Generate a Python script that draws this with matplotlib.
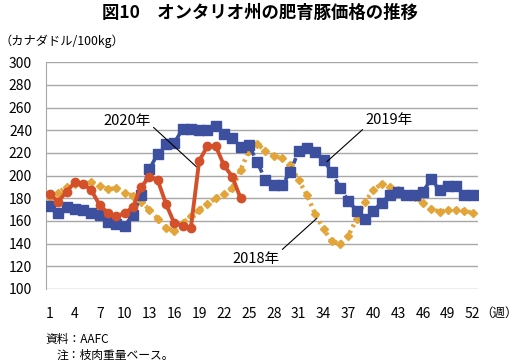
import matplotlib
matplotlib.use('Agg')
from matplotlib import pyplot as plt

plt.rcParams['font.family'] = ['Noto Sans CJK JP', 'DejaVu Sans']

weeks = list(range(1, 53))
weeks_2020 = list(range(1, 25))

price_2018 = [180, 185, 190, 193, 193, 194, 191, 188, 189, 185,
              182, 177, 170, 162, 154, 151, 158, 164, 170, 175,
              180, 184, 189, 205, 222, 228, 222, 217, 216, 209,
              196, 183, 166, 153, 142, 140, 147, 162, 177, 187,
              193, 190, 187, 184, 181, 176, 171, 168, 170, 170,
              169, 167]

price_2019 = [173, 167, 172, 171, 170, 167, 165, 159, 157, 156,
              165, 183, 206, 219, 228, 229, 241, 241, 240, 240,
              244, 237, 233, 225, 227, 212, 196, 192, 192, 203,
              222, 224, 221, 214, 203, 189, 178, 169, 162, 169,
              176, 183, 186, 183, 183, 186, 197, 187, 191, 191,
              183, 183]

price_2020 = [184, 177, 186, 194, 193, 187, 174, 167, 164, 167,
              172, 190, 199, 196, 175, 158, 156, 154, 213, 226,
              226, 209, 199, 180]

x_ticks = list(range(1, 53, 3))
y_ticks = list(range(100, 301, 20))


def draw():
    fig = plt.figure(figsize=(5.19, 3.63), dpi=100)
    ax = fig.add_axes([0.0886, 0.2039, 0.8318, 0.6245])

    ax.plot(weeks, price_2018, color='#E3A53A', lw=3.2, ls=(0, (0.6, 0.9)),
            marker='D', ms=4.5, zorder=2)
    ax.plot(weeks, price_2019, color='#3D4F9F', lw=2.6, ls=(0, (1.6, 1.0)),
            marker='s', ms=6.5, zorder=3)
    ax.plot(weeks_2020, price_2020, color='#D4502A', lw=2.8,
            marker='o', ms=6, zorder=4)

    ax.set_xlim(0.52, 52.6)
    ax.set_ylim(100, 300)
    ax.set_xticks(x_ticks)
    ax.set_yticks(y_ticks)
    ax.grid(axis='y', color='#A8A8A8', lw=1)
    ax.set_axisbelow(True)
    for s in ['top', 'right', 'bottom']:
        ax.spines[s].set_visible(False)
    ax.spines['left'].set_color('#A8A8A8')
    ax.tick_params(axis='both', length=0, labelsize=10)
    ax.tick_params(axis='x', pad=13)
    ax.tick_params(axis='y', pad=10)

    line = dict(arrowstyle='-', color='black', lw=0.8, shrinkA=0, shrinkB=0)
    ax.annotate('2020年', xy=(18.7, 207.6), xytext=(10.3, 248.2),
                ha='center', va='center', fontsize=10.5,
                arrowprops=dict(line, relpos=(0.96, 0.35)))
    ax.annotate('2019年', xy=(34.4, 212.3), xytext=(41.9, 249),
                ha='center', va='center', fontsize=10.5,
                arrowprops=dict(line, relpos=(0.0, 0.0)))
    ax.annotate('2018年', xy=(33.2, 162.4), xytext=(25.85, 126.5),
                ha='center', va='center', fontsize=10.5,
                arrowprops=dict(line, relpos=(1.0, 1.0)))

    fig.text(0.5, 1 - 13 / 363, '図10　オンタリオ州の肥育豚価格の推移',
             ha='center', va='center', fontsize=12.5, fontweight='bold')
    fig.text(0.0, 1 - 41 / 363, '（カナダドル/100kg）',
             ha='left', va='center', fontsize=8.8)
    fig.text(480 / 519, 1 - 313 / 363, '（週）',
             ha='left', va='center', fontsize=9)
    fig.text(45 / 519, 1 - 339 / 363, '資料：AAFC',
             ha='left', va='center', fontsize=8.5)
    fig.text(57 / 519, 1 - 355 / 363, '注：枝肉重量ベース。',
             ha='left', va='center', fontsize=8.5)

    fig.savefig('out.png', dpi=100)


if __name__ == '__main__':
    draw()
